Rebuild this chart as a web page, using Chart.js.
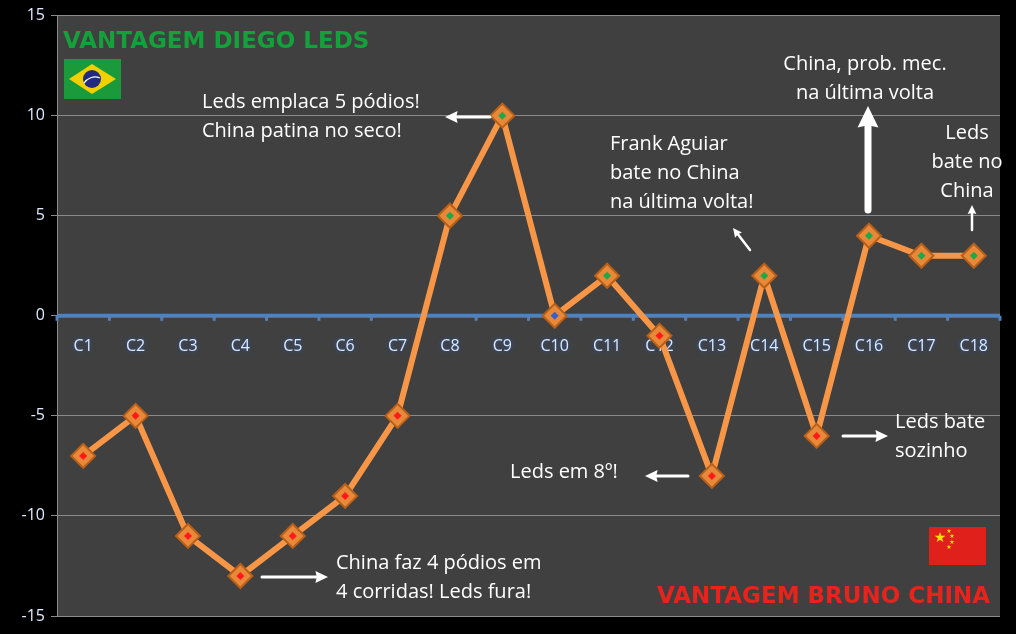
<!DOCTYPE html>
<html><head><meta charset="utf-8">
<script src="https://cdn.jsdelivr.net/npm/chart.js@4"></script>
<style>html,body{margin:0;padding:0;background:#000}#w{width:1016px;height:634px}</style>
</head><body><div id="w"><canvas id="c"></canvas></div>
<script>
const categories = ["C1","C2","C3","C4","C5","C6","C7","C8","C9","C10","C11","C12","C13","C14","C15","C16","C17","C18"];
const advantage = [-7,-5,-11,-13,-11,-9,-5,5,10,0,2,-1,-8,2,-6,4,3,3];
const yTicks = [-15,-10,-5,0,5,10,15];

const FONT = "'Open Sans', 'Noto Sans', sans-serif";

function arrow(ctx,x1,y1,x2,y2,w,head){
  const a=Math.atan2(y2-y1,x2-x1);
  ctx.save();ctx.strokeStyle='#fff';ctx.fillStyle='#fff';ctx.lineWidth=w;ctx.lineCap='round';
  const bx=x2-Math.cos(a)*head*0.8, by=y2-Math.sin(a)*head*0.8;
  ctx.beginPath();ctx.moveTo(x1,y1);ctx.lineTo(bx,by);ctx.stroke();
  ctx.beginPath();ctx.moveTo(x2,y2);
  ctx.lineTo(x2-Math.cos(a-0.45)*head,y2-Math.sin(a-0.45)*head);
  ctx.lineTo(bx,by);
  ctx.lineTo(x2-Math.cos(a+0.45)*head,y2-Math.sin(a+0.45)*head);
  ctx.closePath();ctx.fill();ctx.restore();
}

const deco = {
  id:'deco',
  beforeDatasetsDraw(chart){
    const {ctx,scales:{x,y},chartArea:ca}=chart;
    const y0=y.getPixelForValue(0);
    ctx.save();
    ctx.strokeStyle='#4f81bd';ctx.lineWidth=4;
    ctx.beginPath();ctx.moveTo(ca.left,y0);ctx.lineTo(ca.right,y0);ctx.stroke();
    ctx.lineWidth=3;
    for(let i=0;i<=categories.length;i++){
      const px=ca.left+(ca.right-ca.left)*i/categories.length;
      ctx.beginPath();ctx.moveTo(px,y0);ctx.lineTo(px,y0+5);ctx.stroke();
    }
    ctx.font="16px "+FONT;ctx.textAlign='center';ctx.textBaseline='middle';
    ctx.shadowColor='#2a5fb0';ctx.shadowBlur=4;ctx.fillStyle='#dce8ff';
    categories.forEach((c,i)=>ctx.fillText(c,x.getPixelForValue(i),y0+31));
    ctx.restore();
  },
  afterDatasetsDraw(chart){
    const {ctx}=chart;
    const meta=chart.getDatasetMeta(0);
    ctx.save();
    meta.data.forEach((p,i)=>{
      const v=advantage[i];
      ctx.fillStyle=v>0?'#1fa84a':(v<0?'#ff1a1a':'#3a5fcd');
      ctx.beginPath();ctx.moveTo(p.x,p.y-4);ctx.lineTo(p.x+4,p.y);ctx.lineTo(p.x,p.y+4);ctx.lineTo(p.x-4,p.y);ctx.closePath();ctx.fill();
    });
    ctx.textBaseline='alphabetic';ctx.textAlign='left';
    ctx.font="bold 23px 'DejaVu Sans', sans-serif";
    ctx.fillStyle='#14a03a';ctx.fillText('VANTAGEM DIEGO LEDS',63,48);
    ctx.fillStyle='#e8231c';ctx.textAlign='right';ctx.fillText('VANTAGEM BRUNO CHINA',990,603);
    ctx.fillStyle='#1a9a3a';ctx.fillRect(64,59,57,40);
    ctx.fillStyle='#f2d000';ctx.beginPath();ctx.moveTo(69,79);ctx.lineTo(92,64);ctx.lineTo(116,79);ctx.lineTo(92,94);ctx.closePath();ctx.fill();
    ctx.fillStyle='#1f2a80';ctx.beginPath();ctx.arc(92,79,9,0,Math.PI*2);ctx.fill();
    ctx.strokeStyle='#fff';ctx.lineWidth=1.2;ctx.beginPath();ctx.arc(95,90,13,-2.6,-1.2);ctx.stroke();
    ctx.fillStyle='#e0211b';ctx.fillRect(929,527,57,38);
    ctx.fillStyle='#ffde00';ctx.font="14px 'DejaVu Sans'";ctx.textAlign='center';ctx.textBaseline='middle';
    ctx.fillText('★',940,538);ctx.font="6px 'DejaVu Sans'";
    [[949,531],[952,536],[952,542],[949,547]].forEach(([a,b])=>ctx.fillText('★',a,b));
    ctx.fillStyle='#fff';ctx.font="20px "+FONT;ctx.textBaseline='middle';
    const T=(s,x0,y0,al)=>{ctx.textAlign=al||'left';ctx.fillText(s,x0,y0);};
    T('Leds emplaca 5 pódios!',202,102);T('China patina no seco!',202,131);
    T('China, prob. mec.',865,64,'center');T('na última volta',865,93,'center');
    T('Leds',967,133,'center');T('bate no',967,162,'center');T('China',967,191,'center');
    T('Frank Aguiar',610,144);T('bate no China',610,173);T('na última volta!',610,202);
    T('Leds em 8º!',510,472);
    T('Leds bate',895,422);T('sozinho',895,451);
    T('China faz 4 pódios em',336,563);T('4 corridas! Leds fura!',336,592);
    ctx.restore();
    arrow(ctx,490,117,445,117,3,14);
    arrow(ctx,868,210,868,106,7,24);
    arrow(ctx,972,230,972,205,2.5,10);
    arrow(ctx,750,250,733,228,2.5,10);
    arrow(ctx,688,476,645,476,3,14);
    arrow(ctx,843,436,888,436,3,14);
    arrow(ctx,262,577,328,577,3,14);
  }
};
const bg={id:'bg',beforeDraw(chart){const {ctx,chartArea:ca}=chart;ctx.save();ctx.fillStyle='#000';ctx.fillRect(0,0,chart.width,chart.height);ctx.fillStyle='#404040';ctx.fillRect(ca.left,ca.top,ca.right-ca.left,ca.bottom-ca.top);ctx.restore();}};

new Chart(document.getElementById('c'),{
  type:'line',
  data:{labels:categories,datasets:[{data:advantage,borderColor:'#f79646',borderWidth:6,
    pointStyle:'rectRot',pointRadius:12,pointHoverRadius:12,pointBackgroundColor:'#e8893a',
    pointBorderColor:'#b85f18',pointBorderWidth:2,tension:0}]},
  options:{responsive:true,maintainAspectRatio:false,animation:false,
    layout:{padding:{top:14,right:16,bottom:10,left:0}},
    plugins:{legend:{display:false},tooltip:{enabled:false}},
    scales:{
      x:{offset:true,grid:{display:false},border:{display:false},ticks:{display:false}},
      y:{min:-15,max:15,afterBuildTicks(s){s.ticks=yTicks.map(v=>({value:v}));},
        afterFit(s){s.width=57;},
        grid:{color:'#8a8a8a',lineWidth:1,drawTicks:true,tickLength:6,tickColor:'#8a8a8a'},
        border:{display:true,color:'#8a8a8a'},
        ticks:{color:'#e0ebff',font:{size:16,family:FONT},padding:6}}
    }},
  plugins:[bg,deco]
});
</script></body></html>
